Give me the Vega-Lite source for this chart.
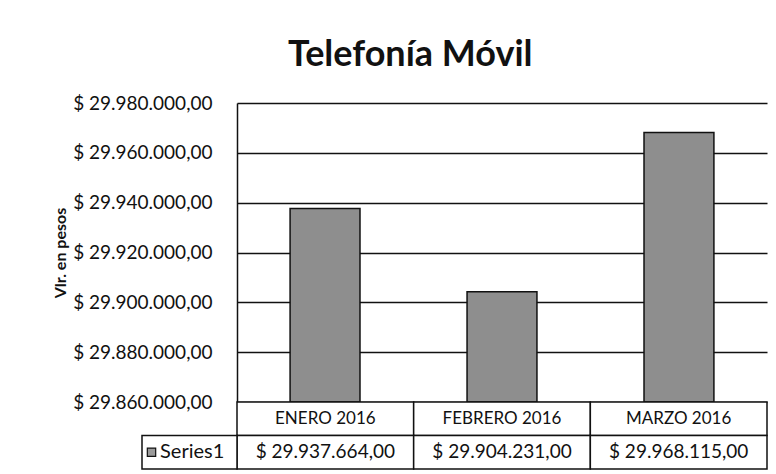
{
  "$schema": "https://vega.github.io/schema/vega-lite/v6.json",
  "background": "white",
  "padding": {"left": 52, "top": 37, "right": 4, "bottom": 2},
  "config": {
    "locale": {"number": {"decimal": ",", "thousands": ".", "grouping": [3], "currency": ["$ ", ""]}},
    "view": {"stroke": null},
    "font": "Lato",
    "text": {"font": "Lato", "color": "#111"}
  },
  "title": {"text": "Telefonía Móvil", "fontSize": 36, "fontWeight": "bold", "font": "Lato", "color": "#111", "offset": 20, "anchor": "middle"},
  "data": {"values": [
    {"mes": "ENERO 2016", "valor": 29937664},
    {"mes": "FEBRERO 2016", "valor": 29904231},
    {"mes": "MARZO 2016", "valor": 29968115}
  ]},
  "spacing": 0,
  "bounds": "flush",
  "vconcat": [
    {
      "width": 530,
      "height": 299,
      "mark": {"type": "bar", "fill": "#8e8e8e", "stroke": "#111", "strokeWidth": 1.5},
      "encoding": {
        "x": {"field": "mes", "type": "nominal", "sort": null, "scale": {"paddingInner": 0.605, "paddingOuter": 0.3}, "axis": null},
        "y": {
          "field": "valor", "type": "quantitative",
          "scale": {"domain": [29860000, 29980000], "zero": false, "nice": false},
          "axis": {
            "title": "Vlr. en pesos", "titleFontSize": 16, "titleFontWeight": "bold", "titleColor": "#111", "titlePadding": 4,
            "values": [29860000, 29880000, 29900000, 29920000, 29940000, 29960000, 29980000],
            "format": "$,.2f", "labelFontSize": 19, "labelColor": "#111", "labelFont": "Lato", "labelPadding": 25,
            "ticks": false, "domainColor": "#111", "domainWidth": 1.5,
            "grid": true, "gridColor": "#111", "gridWidth": 1.5, "gridOpacity": 1
          }
        },
        "y2": {"datum": 29860000}
      }
    },
    {
      "width": 530,
      "height": 67,
      "layer": [
        {
          "layer": [
            {
              "mark": {"type": "rect", "fill": "white", "stroke": "#111", "strokeWidth": 1.5},
              "encoding": {
                "x": {"field": "mes", "type": "nominal", "sort": null, "scale": {"paddingInner": 0, "paddingOuter": 0}, "axis": null},
                "y": {"datum": "h", "type": "nominal", "scale": {"domain": ["h", "v"], "paddingInner": 0, "paddingOuter": 0}, "axis": null}
              }
            },
            {
              "mark": {"type": "rect", "fill": "white", "stroke": "#111", "strokeWidth": 1.5},
              "encoding": {
                "x": {"field": "mes", "type": "nominal", "sort": null, "axis": null},
                "y": {"datum": "v", "type": "nominal", "axis": null}
              }
            },
            {
              "mark": {"type": "text", "fontSize": 17},
              "encoding": {
                "x": {"field": "mes", "type": "nominal", "sort": null, "axis": null},
                "y": {"datum": "h", "type": "nominal", "axis": null},
                "text": {"field": "mes"}
              }
            },
            {
              "mark": {"type": "text", "fontSize": 19},
              "encoding": {
                "x": {"field": "mes", "type": "nominal", "sort": null, "axis": null},
                "y": {"datum": "v", "type": "nominal", "axis": null},
                "text": {"field": "valor", "type": "quantitative", "format": "$,.2f"}
              }
            }
          ]
        },
        {
          "data": {"values": [{"serie": "Series1"}]},
          "layer": [
            {
              "mark": {"type": "rect", "fill": "white", "stroke": "#111", "strokeWidth": 1.5, "clip": false},
              "encoding": {
                "x": {"datum": 0, "type": "quantitative", "scale": {"domain": [0, 1], "range": [-95, 0]}, "axis": null},
                "x2": {"datum": 1},
                "y": {"datum": "v", "type": "nominal", "axis": null}
              }
            },
            {
              "mark": {"type": "point", "shape": "square", "size": 70, "filled": true, "fill": "#9a9a9a", "stroke": "#111", "strokeWidth": 1.2, "opacity": 1, "clip": false},
              "encoding": {
                "x": {"datum": 0.1, "type": "quantitative"},
                "y": {"datum": "v", "type": "nominal", "axis": null}
              }
            },
            {
              "mark": {"type": "text", "fontSize": 20, "align": "left", "clip": false},
              "encoding": {
                "x": {"datum": 0.19, "type": "quantitative"},
                "y": {"datum": "v", "type": "nominal", "axis": null},
                "text": {"field": "serie"}
              }
            }
          ]
        }
      ],
      "resolve": {"scale": {"x": "independent"}}
    }
  ]
}
